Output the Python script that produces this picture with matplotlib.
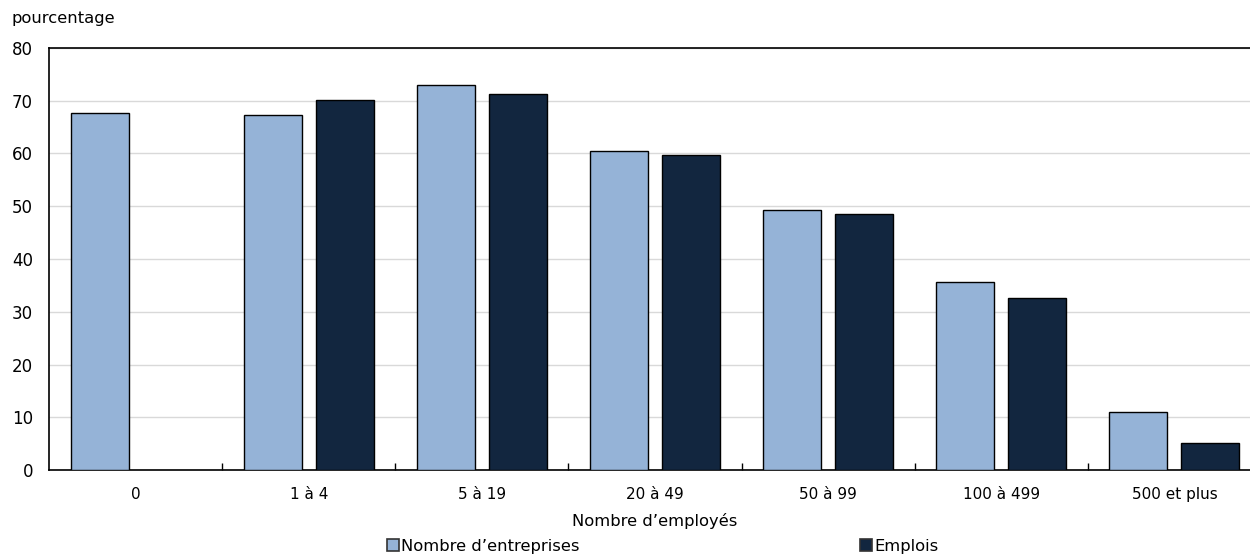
import numpy as np
import matplotlib as mpl
mpl.use('Agg')
import matplotlib.pyplot as plt
import matplotlib.patches as mpatches
from matplotlib.ticker import MultipleLocator

# share of businesses / jobs by employee size class
categories = ["0", "1 à 4", "5 à 19", "20 à 49", "50 à 99", "100 à 499", "500 et plus"]
entreprises = [67.6, 67.3, 72.9, 60.5, 49.2, 35.7, 11.0]
emplois = [np.nan, 70.1, 71.3, 59.7, 48.6, 32.6, 5.2]
series_labels = ["Nombre d\u2019entreprises", "Emplois"]

light = "#95B3D7"
dark = "#12263F"

plt.rcParams['font.family'] = ['DejaVu Sans']
plt.rcParams['font.size'] = 11

W, H = 1250, 554
fig = plt.figure(figsize=(W / 100, H / 100), dpi=100)
# axes runs a little past the right edge of the canvas
left, right, top, bottom = 49, 1261, 47.7, 470.3
ax = fig.add_axes([left / W, 1 - bottom / H, (right - left) / W, (bottom - top) / H])

x = np.arange(len(categories))
bw = 58 / 173.3
off = 36 / 173.3
ax.bar(x - off, entreprises, bw, color=light, edgecolor="black", linewidth=1.0, zorder=3)
ax.bar(x + off, emplois, bw, color=dark, edgecolor="black", linewidth=1.0, zorder=3)

ax.set_xlim(-0.5, len(categories) - 0.5)
ax.set_ylim(0, 80)
ax.yaxis.set_major_locator(MultipleLocator(10))
ax.grid(axis="y", color="#d9d9d9", linewidth=1.0, zorder=0)

for s in ["left", "bottom", "top"]:
    ax.spines[s].set_color("black")
    ax.spines[s].set_linewidth(1.2)
ax.spines["right"].set_visible(False)

ax.set_xticks(x)
ax.set_xticklabels(categories, fontsize=11)
ax.tick_params(axis="x", length=0, pad=12)
ax.set_xticks(np.arange(0.5, len(categories) - 1, 1), minor=True)
ax.tick_params(axis="x", which="minor", direction="in", length=5, width=1, color="black")
ax.tick_params(axis="y", length=0, pad=11.5, labelsize=12)

ax.set_xlabel("Nombre d\u2019employés", fontsize=11.8, labelpad=8)
fig.text(12 / W, 1 - 18 / H, "pourcentage", fontsize=11.8, va="center", ha="left")

# one legend entry per series, each anchored at its own spot
for lab, col, xpos in zip(series_labels, [light, dark], [387, 860]):
    h = mpatches.Patch(facecolor=col, edgecolor="#333333", linewidth=1.2)
    fig.legend([h], [lab], loc="center left", bbox_to_anchor=(xpos / W, 1 - 546 / H),
               frameon=False, fontsize=11.8, handlelength=0.75, handleheight=0.75,
               handletextpad=0.1, borderaxespad=0, borderpad=0)

fig.savefig("out.png", dpi=100)
